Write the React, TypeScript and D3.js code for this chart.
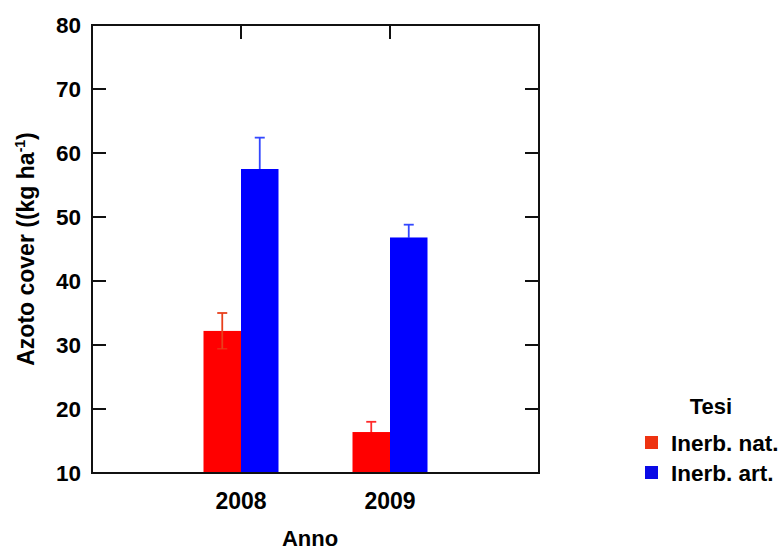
import React from "react";
import * as d3 from "d3";

const years = ["2008", "2009"];
const seriesNames = ["Inerb. nat.", "Inerb. art."];
const natValues = [32.2, 16.4];
const natErrors = [2.8, 1.6];
const artValues = [57.5, 46.8];
const artErrors = [4.9, 2.0];
const yTicks = [10, 20, 30, 40, 50, 60, 70, 80];
const barColors = ["#ff0000", "#0000ff"];
const errColors = [["#e8401c", "#ff2a2a"], ["#3348ff", "#3348ff"]];
const lowerErrColors = [["#e8401c", "#ff0000"], ["#0000ff", "#0000ff"]];
const legendColors = ["#ee3311", "#0a0ae6"];

export default function App() {
  const W = 782, H = 552;
  const left = 92, right = 539, top = 25, bottom = 473;
  const x = d3.scaleLinear().domain([0, 3]).range([left, right]);
  const y = d3.scaleLinear().domain([10, 80]).range([bottom, top]);
  const barW = 37.5;
  const font = "Liberation Sans, Arial, sans-serif";
  const series = [
    { vals: natValues, errs: natErrors, offset: -1 },
    { vals: artValues, errs: artErrors, offset: 0 },
  ];
  const tickLen = 14;
  return (
    <svg width={W} height={H} style={{ position: "absolute", left: 0, top: 0 }} fontFamily={font}>
      <rect width={W} height={H} fill="#fff" />
      {series.map((s, si) =>
        years.map((yr, i) => {
          const cx = x(i + 1);
          const x0 = cx + s.offset * barW;
          const xc = x0 + barW / 2;
          const v = s.vals[i];
          const e = s.errs[i];
          return (
            <g key={yr + si}>
              <rect x={x0} y={y(v)} width={barW} height={y(10) - y(v)} fill={barColors[si]} />
              <line x1={xc} x2={xc} y1={y(v)} y2={y(v - e)} stroke={lowerErrColors[si][i]} strokeWidth={1.8} />
              <line x1={xc - 5} x2={xc + 5} y1={y(v - e)} y2={y(v - e)} stroke={lowerErrColors[si][i]} strokeWidth={1} />
              <line x1={xc} x2={xc} y1={y(v + e)} y2={y(v)} stroke={errColors[si][i]} strokeWidth={1.8} />
              <line x1={xc - 5} x2={xc + 5} y1={y(v + e)} y2={y(v + e)} stroke={errColors[si][i]} strokeWidth={1.8} />
            </g>
          );
        })
      )}
      <rect x={left} y={top} width={right - left} height={bottom - top} fill="none" stroke="#111" strokeWidth={2} />
      {yTicks.map((t) => (
        <g key={t}>
          <line x1={left} x2={left + tickLen} y1={y(t)} y2={y(t)} stroke="#111" strokeWidth={2} />
          <line x1={right - tickLen} x2={right} y1={y(t)} y2={y(t)} stroke="#111" strokeWidth={2} />
          <text x={81} y={y(t) + 8} textAnchor="end" fontSize={22.5} fontWeight="bold" fill="#000">
            {t}
          </text>
        </g>
      ))}
      {years.map((yr, i) => (
        <g key={yr}>
          <line x1={x(i + 1)} x2={x(i + 1)} y1={top} y2={top + tickLen} stroke="#111" strokeWidth={2} />
          <text x={x(i + 1)} y={509} textAnchor="middle" fontSize={23} fontWeight="bold" fill="#000">
            {yr}
          </text>
        </g>
      ))}
      <text x={310} y={546} textAnchor="middle" fontSize={22} fontWeight="bold" fill="#000">
        Anno
      </text>
      <text transform={`translate(34,${(top + bottom) / 2}) rotate(-90)`} textAnchor="middle" fontSize={23} fontWeight="bold" fill="#000">
        Azoto cover ((kg ha<tspan dy={-9} fontSize={14}>-1</tspan><tspan dy={9}>)</tspan>
      </text>
      <text x={711} y={414} textAnchor="middle" fontSize={22} fontWeight="bold" fill="#000">
        Tesi
      </text>
      {seriesNames.map((n, i) => (
        <g key={n}>
          <rect x={645} y={436 + i * 30} width={13} height={13} fill={legendColors[i]} />
          <text x={671} y={451 + i * 30} fontSize={22.5} fontWeight="bold" fill="#000">
            {n}
          </text>
        </g>
      ))}
    </svg>
  );
}
